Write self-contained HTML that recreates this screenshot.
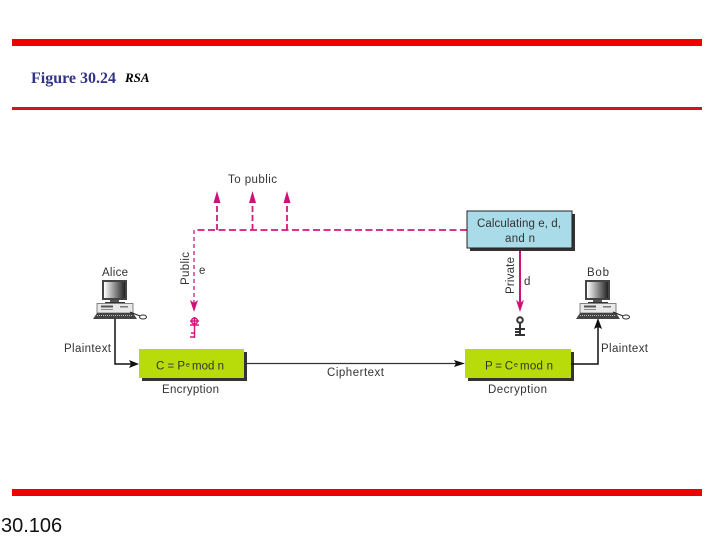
<!DOCTYPE html>
<html><head><meta charset="utf-8"><style>html,body{margin:0;padding:0;background:#fff}svg{display:block}</style></head><body>
<svg xmlns="http://www.w3.org/2000/svg" width="720" height="540" viewBox="0 0 720 540">
<defs>
<linearGradient id="m" x1="0" x2="1"><stop offset="0" stop-color="#fff"/><stop offset="1" stop-color="#222"/></linearGradient>
<g id="pc">
<rect x="0" y="0" width="25" height="20" fill="#444"/>
<rect x="2" y="2" width="21" height="16" fill="url(#m)"/>
<rect x="8" y="20" width="9" height="2" fill="#555"/>
<rect x="3" y="22" width="20" height="1" fill="#333"/>
<rect x="-5" y="23.500" width="36" height="9.500" fill="#e8e8e8" stroke="#666" stroke-width=".8"/>
<rect x="-1" y="25.500" width="12" height="2" fill="#555"/>
<rect x="-1" y="29" width="12" height="1" fill="#888"/>
<rect x="18" y="26" width="8" height="1.500" fill="#777"/>
<path d="M-9 39 L-5 33 H31 L35 39 Z" fill="#444"/>
<path d="M-5 35.500 H31" stroke="#bbb" stroke-width="1" stroke-dasharray="1 1"/>
<path d="M28 32 L38 36" stroke="#222" stroke-width="1" fill="none"/>
<ellipse cx="41" cy="37" rx="3.500" ry="2" fill="#fff" stroke="#333" stroke-width="1"/>
</g>
</defs>
<rect x="12" y="39" width="690" height="7" fill="#ee0000"/>
<rect x="12" y="107" width="690" height="3" fill="#c81818"/>
<rect x="12" y="489" width="690" height="7" fill="#ee0000"/>
<text x="31" y="83" font-family="Liberation Serif,serif" font-size="16" font-weight="bold" fill="#333388">Figure 30.24</text>
<text x="125" y="82" font-family="Liberation Serif,serif" font-size="13" font-weight="bold" font-style="italic" fill="#000">RSA</text>
<text x="1" y="532" font-family="Liberation Sans,sans-serif" font-size="20" fill="#111">30.106</text>

<!-- dashed connectors -->
<g stroke="#d6187f" stroke-width="1.800" fill="none">
<path d="M467 230 H194" stroke-dasharray="7 3.500"/>
<path d="M194 230 V304" stroke-dasharray="4 3" stroke-width="1.300"/>
<path d="M217 230 V200" stroke-dasharray="6 3"/><path d="M252.500 230 V200" stroke-dasharray="6 3"/><path d="M287 230 V200" stroke-dasharray="6 3"/>
</g>
<g fill="#d00f78">
<path d="M217 191 L220.500 203 H213.500 Z"/><path d="M252.500 191 L256 203 H249 Z"/><path d="M287 191 L290.500 203 H283.500 Z"/>
<path d="M194 312 L190 300 L194 303 L198 300 Z"/>
<path d="M520 312 L516 300 L520 303 L524 300 Z"/>
</g>
<path d="M520 248 V306" stroke="#d00f78" stroke-width="2" fill="none"/>

<!-- keys -->
<g stroke="#d6187f" stroke-width="1.500" fill="none">
<circle cx="194.500" cy="321" r="3"/><path d="M190 321 H199 M194.500 317 V338 M190 325 H199 M190 337 H194.500 M191 333 H194"/>
</g>
<g stroke="#333" stroke-width="2" fill="none">
<circle cx="520" cy="320" r="2.800"/><path d="M520 322 V336 M515 329 H525 M515 335 H525 M515 332 H519"/>
</g>

<!-- boxes -->
<rect x="470" y="214" width="105" height="37" fill="#333"/>
<rect x="467" y="211" width="105" height="37" fill="#a9dbe8" stroke="#222" stroke-width="1"/>
<rect x="142" y="352" width="105" height="29" fill="#333"/>
<rect x="139" y="349" width="105" height="29" fill="#b7dc0a"/>
<rect x="468" y="352" width="106" height="29" fill="#333"/>
<rect x="465" y="349" width="106" height="29" fill="#b7dc0a"/>

<!-- black connectors -->
<path d="M115 319 V364 H132" stroke="#111" stroke-width="1.500" fill="none"/>
<path d="M139 364 L129 360 L131 364 L129 368 Z" fill="#111"/>
<path d="M244 363.500 H458" stroke="#333" stroke-width="1.200" fill="none"/>
<path d="M465 363.500 L454 360 L456 363.500 L454 367 Z" fill="#111"/>
<path d="M571 364 H598 V325" stroke="#111" stroke-width="1.500" fill="none"/>
<path d="M598 318 L594 329 L598 327 L602 329 Z" fill="#111"/>

<use href="#pc" x="102" y="280"/>
<use href="#pc" x="585" y="280"/>

<!-- labels -->
<g font-family="Liberation Sans,sans-serif" font-size="11.500" fill="#333">
<text x="228" y="183" textLength="49">To public</text>
<text x="102" y="276" textLength="26">Alice</text>
<text x="587" y="276" textLength="22">Bob</text>
<text x="64" y="352" textLength="47">Plaintext</text>
<text x="601" y="352" textLength="47">Plaintext</text>
<text x="327" y="376" textLength="57">Ciphertext</text>
<text x="162" y="393" textLength="57">Encryption</text>
<text x="488" y="393" textLength="59">Decryption</text>
<text x="477" y="227" textLength="84">Calculating e, d,</text>
<text x="505" y="242" textLength="30">and n</text>
<text x="156" y="369.500" textLength="29">C = P</text><text x="186" y="367" font-size="7">e</text><text x="192" y="369.500" textLength="32">mod n</text>
<text x="485" y="369.500" textLength="28">P = C</text><text x="514" y="367" font-size="7">e</text><text x="520" y="369.500" textLength="33">mod n</text>
<text x="199" y="274">e</text>
<text x="524" y="285">d</text>
<text transform="translate(189,285) rotate(-90)" textLength="33">Public</text>
<text transform="translate(514,294) rotate(-90)" textLength="37">Private</text>
</g>
</svg>
</body></html>
